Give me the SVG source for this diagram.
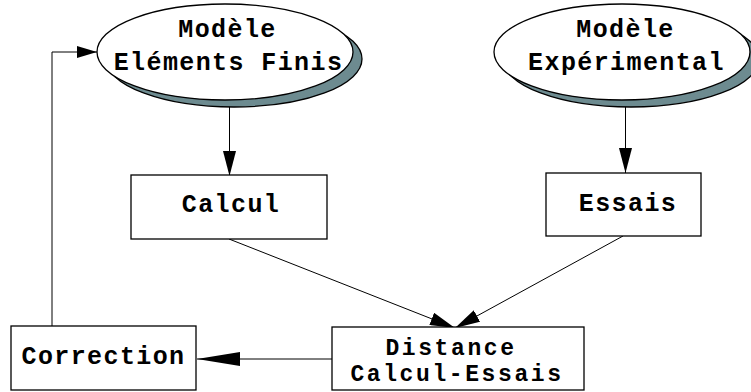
<svg xmlns="http://www.w3.org/2000/svg" width="751" height="392" viewBox="0 0 751 392">
<style>
  .t { font-family: "Liberation Mono", "DejaVu Sans Mono", monospace; font-weight: bold; font-size: 25px; letter-spacing: 1.4px; text-anchor: middle; fill: #000; }
  .t2 { font-size: 23px; letter-spacing: 2.6px; }
  .box { fill: #fff; stroke: #000; stroke-width: 1.3; }
  .ell { fill: #fff; stroke: #000; stroke-width: 1.3; }
  .shadow { fill: #6d8b90; stroke: #000; stroke-width: 1.3; }
  .ln { fill: none; stroke: #000; stroke-width: 1; }
</style>
<defs>
  <marker id="ah" markerUnits="userSpaceOnUse" viewBox="0 0 25 13" refX="25" refY="6.5" markerWidth="25" markerHeight="13" orient="auto">
    <path d="M0,0 L25,6.5 L0,13 z" fill="#000"/>
  </marker>
  <marker id="ahLong" markerUnits="userSpaceOnUse" viewBox="0 0 43 14" refX="43" refY="7" markerWidth="43" markerHeight="14" orient="auto">
    <path d="M0,0 L43,7 L0,14 z" fill="#000"/>
  </marker>
  <marker id="ahSmall" markerUnits="userSpaceOnUse" viewBox="0 0 20 12" refX="20" refY="6" markerWidth="20" markerHeight="12" orient="auto">
    <path d="M0,0 L20,6 L0,12 z" fill="#000"/>
  </marker>
</defs>
<rect width="751" height="392" fill="#fff"/>

<g id="connectors">
  <line class="ln" x1="229.5" y1="100" x2="229.5" y2="176" marker-end="url(#ah)"/>
  <line class="ln" x1="625.5" y1="100" x2="625.5" y2="173" marker-end="url(#ah)"/>
  <line class="ln" x1="229" y1="239" x2="455" y2="328" marker-end="url(#ah)"/>
  <line class="ln" x1="623" y1="236" x2="455" y2="328" marker-end="url(#ah)"/>
  <line class="ln" x1="332" y1="359" x2="197" y2="359" marker-end="url(#ahLong)"/>
  <polyline class="ln" points="52,326 52,52 97,52" marker-end="url(#ahSmall)"/>
</g>

<g id="modele-ef">
  <ellipse class="shadow" cx="234" cy="59" rx="128" ry="48"/>
  <ellipse class="ell" cx="225" cy="52" rx="128" ry="48"/>
  <text class="t" x="227.5" y="37">Modèle</text>
  <text class="t" x="228.5" y="70">Eléments Finis</text>
</g>

<g id="modele-exp">
  <ellipse class="shadow" cx="631" cy="59" rx="128" ry="48"/>
  <ellipse class="ell" cx="622" cy="52" rx="128" ry="48"/>
  <text class="t" x="625.5" y="37">Modèle</text>
  <text class="t" x="626.5" y="70">Expérimental</text>
</g>

<g id="calcul">
  <rect class="box" x="131" y="175" width="196" height="64"/>
  <text class="t" x="231" y="211.5">Calcul</text>
</g>

<g id="essais">
  <rect class="box" x="546" y="173" width="155" height="63"/>
  <text class="t" x="628" y="210.5">Essais</text>
</g>

<g id="distance">
  <rect class="box" x="332" y="327" width="252" height="63"/>
  <text class="t t2" x="451" y="355">Distance</text>
  <text class="t t2" x="457" y="381">Calcul-Essais</text>
</g>

<g id="correction">
  <rect class="box" x="11" y="326" width="185" height="64"/>
  <text class="t" x="103.5" y="364">Correction</text>
</g>
</svg>
